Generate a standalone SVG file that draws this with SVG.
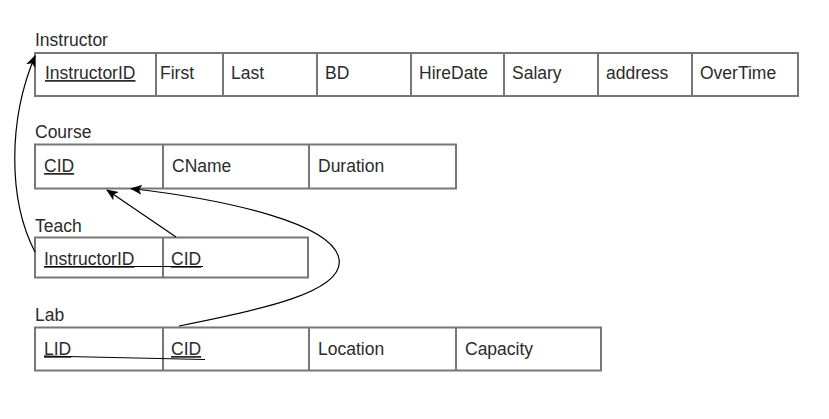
<svg xmlns="http://www.w3.org/2000/svg" width="829" height="419" viewBox="0 0 829 419">
<style>
.cell{fill:#fff;stroke:#777;stroke-width:2}
.t{font-family:"Liberation Sans",Arial,sans-serif;font-size:17.5px;fill:#2b2b2b}
.u{text-decoration:underline}
.c{fill:none;stroke:#000;stroke-width:1.2}
</style>
<defs>
<marker id="ah" viewBox="0 0 12 10" refX="11" refY="5" markerWidth="12" markerHeight="10" markerUnits="userSpaceOnUse" orient="auto">
<path d="M0,0 L12,5 L0,10 L3,5 z" fill="#000"/>
</marker>
</defs>
<rect width="829" height="419" fill="#fff"/>
<g id="instructor">
<text class="t" x="35" y="46">Instructor</text>
<rect class="cell" x="35" y="53" width="763" height="43"/>
<path d="M156 53V96M223 53V96M317 53V96M411 53V96M504 53V96M598 53V96M692 53V96" stroke="#777" stroke-width="2"/>
<text class="t u" x="45" y="79">InstructorID</text>
<text class="t" x="160" y="79">First</text>
<text class="t" x="231" y="79">Last</text>
<text class="t" x="325" y="79">BD</text>
<text class="t" x="419" y="79">HireDate</text>
<text class="t" x="512" y="79">Salary</text>
<text class="t" x="606" y="79">address</text>
<text class="t" x="700" y="79">OverTime</text>
</g>
<g id="course">
<text class="t" x="35" y="138">Course</text>
<rect class="cell" x="35" y="144.5" width="421" height="44"/>
<path d="M163 144.5V188.5M309 144.5V188.5" stroke="#777" stroke-width="2"/>
<text class="t u" x="44" y="172">CID</text>
<text class="t" x="172" y="172">CName</text>
<text class="t" x="318" y="172">Duration</text>
</g>
<g id="teach">
<text class="t" x="35" y="231.5">Teach</text>
<rect class="cell" x="35" y="237.5" width="273" height="40"/>
<path d="M163 237.5V277.5" stroke="#777" stroke-width="2"/>
<text class="t u" x="44" y="265">InstructorID</text>
<text class="t u" x="171" y="265">CID</text>
</g>
<g id="lab">
<text class="t" x="35" y="320.5">Lab</text>
<rect class="cell" x="35" y="327.5" width="566" height="43"/>
<path d="M163 327.5V370.5M309 327.5V370.5M456 327.5V370.5" stroke="#777" stroke-width="2"/>
<text class="t u" x="44" y="355">LID</text>
<text class="t u" x="171" y="355">CID</text>
<text class="t" x="318" y="355">Location</text>
<text class="t" x="465" y="355">Capacity</text>
</g>
<g id="connectors">
<path class="c" d="M35 252 C8 200 8 120 35 56" marker-end="url(#ah)"/>
<path class="c" d="M176 237 L107 190" marker-end="url(#ah)"/>
<path class="c" d="M179 326 C260 310 345 292 339 259 C333 224 230 200 131 188.5" marker-end="url(#ah)"/>
<path class="c" d="M45 266.5 L203 266.5"/>
<path class="c" d="M44 356 L205 359.5"/>
</g>
</svg>
